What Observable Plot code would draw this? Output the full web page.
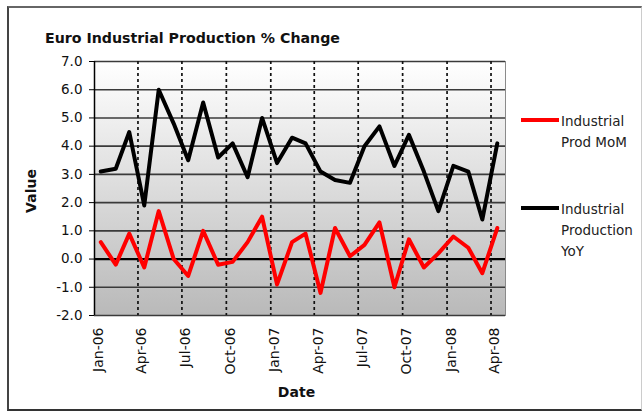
<!DOCTYPE html>
<html><head><meta charset="utf-8">
<script src="https://cdn.jsdelivr.net/npm/d3@7"></script>
<script src="https://cdn.jsdelivr.net/npm/@observablehq/plot@0.6"></script>
<style>
html,body{margin:0;padding:0;background:#fff;}
#wrap{position:relative;width:644px;height:413px;overflow:hidden;font-family:"DejaVu Sans",sans-serif;color:#111;}
#wrap svg{position:absolute;left:0;top:0;}
.border{position:absolute;left:7px;top:6px;width:635px;height:405px;box-sizing:border-box;border-top:2px solid #666;border-left:2px solid #444;border-bottom:2px solid #333;border-right:1px solid #ccc;}
.title{position:absolute;left:45px;top:29.5px;font-weight:bold;font-size:14.2px;line-height:16px;white-space:nowrap;}
.xlab{position:absolute;left:296.5px;top:383.5px;transform:translateX(-50%);font-weight:bold;font-size:14px;line-height:16px;}
.ylab{position:absolute;left:31px;top:191px;transform:translate(-50%,-50%) rotate(-90deg);font-weight:bold;font-size:14px;line-height:16px;}
.sw{position:absolute;left:521px;width:38px;height:4px;}
.lt{position:absolute;left:561px;font-size:13.5px;line-height:21px;color:#222;white-space:nowrap;}
</style>
</head><body>
<div id="wrap"></div>
<script>
// ---- data ----
const months = ["2006-01","2006-02","2006-03","2006-04","2006-05","2006-06","2006-07","2006-08","2006-09","2006-10","2006-11","2006-12",
  "2007-01","2007-02","2007-03","2007-04","2007-05","2007-06","2007-07","2007-08","2007-09","2007-10","2007-11","2007-12",
  "2008-01","2008-02","2008-03","2008-04"];
const seriesNames = ["Industrial Prod MoM", "Industrial Production YoY"];
const mom = [0.6,-0.2,0.9,-0.3,1.7,0.0,-0.6,1.0,-0.2,-0.1,0.6,1.5,-0.9,0.6,0.9,-1.2,1.1,0.1,0.5,1.3,-1.0,0.7,-0.3,0.2,0.8,0.4,-0.5,1.1];
const yoy = [3.1,3.2,4.5,1.9,6.0,4.8,3.5,5.55,3.6,4.1,2.9,5.0,3.4,4.3,4.1,3.1,2.8,2.7,4.0,4.7,3.3,4.4,3.1,1.7,3.3,3.1,1.4,4.1];
const xTickMonths = ["2006-01","2006-04","2006-07","2006-10","2007-01","2007-04","2007-07","2007-10","2008-01","2008-04"];
const xTickLabels = ["Jan-06","Apr-06","Jul-06","Oct-06","Jan-07","Apr-07","Jul-07","Oct-07","Jan-08","Apr-08"];
const yTicks = [-2,-1,0,1,2,3,4,5,6,7];
const colors = ["#ff0000", "#000000"];
const xDomain = ["2006-01", "2008-05"];

// ---- build ----
const parseM = d3.utcParse("%Y-%m");
const rows = months.map((m, i) => ({date: d3.utcDay.offset(parseM(m), 13), mom: mom[i], yoy: yoy[i]}));
const tickDates = xTickMonths.map(parseM);
const x0 = parseM(xDomain[0]), x1 = parseM(xDomain[1]);

const plot = Plot.plot({
  width: 644, height: 413,
  marginLeft: 94, marginRight: 139, marginTop: 61, marginBottom: 98,
  style: {fontFamily: "DejaVu Sans", fontSize: "13px", color: "#111", background: "transparent"},
  x: {type: "utc", domain: [x0, x1]},
  y: {domain: [-2, 7]},
  marks: [
    Plot.frame({fill: "url(#plotGrad)", stroke: "#8a8a8a"}),
    Plot.ruleY(yTicks, {stroke: "#3a3a3a", strokeWidth: 1.6}),
    Plot.ruleY([0], {stroke: "#000", strokeWidth: 2.2}),
    Plot.ruleX(tickDates.slice(1), {stroke: "#111", strokeWidth: 1.7, strokeDasharray: "3,3"}),
    Plot.ruleX([x0], {stroke: "#000", strokeWidth: 1.5}),
    Plot.line(rows, {x: "date", y: "mom", stroke: colors[0], strokeWidth: 4}),
    Plot.line(rows, {x: "date", y: "yoy", stroke: colors[1], strokeWidth: 4}),
    Plot.axisY({ticks: yTicks, tickFormat: d => d.toFixed(1), tickSize: 5, tickPadding: 7, label: null, stroke: "#000", fontSize: 13.5}),
    Plot.axisX({ticks: tickDates, tickFormat: (d, i) => xTickLabels[i], tickRotate: -90, tickSize: 0, tickPadding: 12, label: null, dx: 4, fontSize: 14})
  ]
});

// gradient defs
const NS = "http://www.w3.org/2000/svg";
const defs = document.createElementNS(NS, "defs");
const grad = document.createElementNS(NS, "linearGradient");
grad.setAttribute("id", "plotGrad");
grad.setAttribute("x1", "0"); grad.setAttribute("y1", "0");
grad.setAttribute("x2", "0"); grad.setAttribute("y2", "1");
[["0", "#ffffff"], ["1", "#b9b9b9"]].forEach(([o, c]) => {
  const s = document.createElementNS(NS, "stop");
  s.setAttribute("offset", o); s.setAttribute("stop-color", c);
  grad.appendChild(s);
});
defs.appendChild(grad);
plot.insertBefore(defs, plot.firstChild);

const wrap = document.getElementById("wrap");
wrap.appendChild(plot);

function add(cls, html, style) {
  const d = document.createElement("div");
  d.className = cls; d.innerHTML = html;
  if (style) Object.assign(d.style, style);
  wrap.appendChild(d);
}
add("border", "");
add("title", "Euro Industrial Production % Change");
add("xlab", "Date");
add("ylab", "Value");
add("sw", "", {top: "117.5px", background: colors[0]});
add("lt", "Industrial<br>Prod MoM", {top: "111px"});
add("sw", "", {top: "205.5px", background: colors[1]});
add("lt", "Industrial<br>Production<br>YoY", {top: "198.5px"});
</script>
</body></html>
